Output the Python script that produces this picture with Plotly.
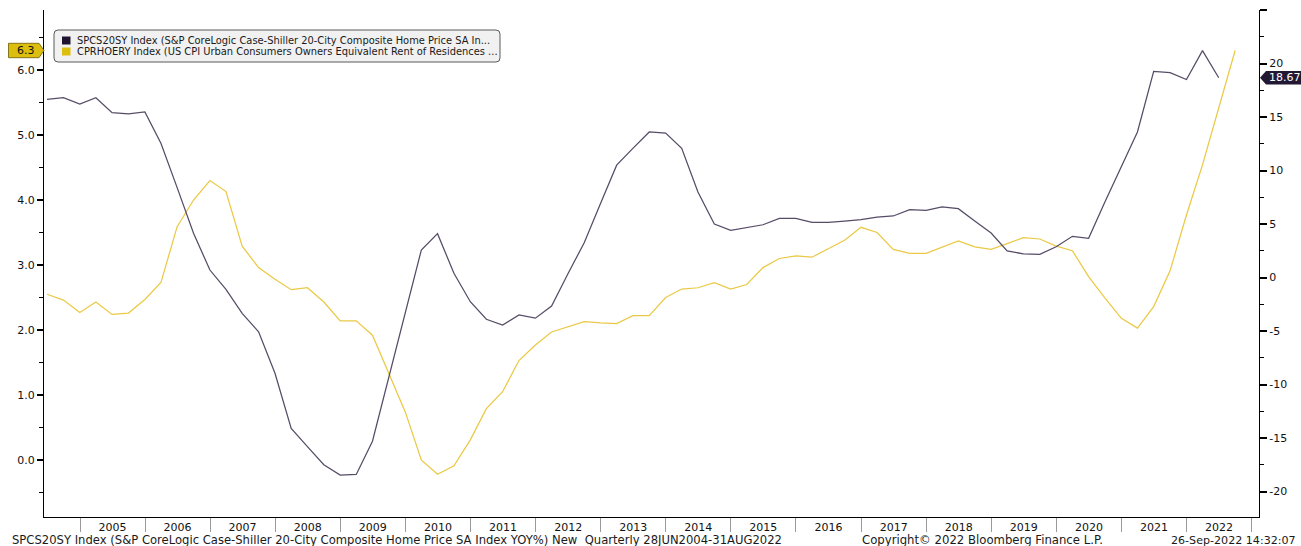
import pandas as pd
import plotly.graph_objects as go

# ---------------- data ----------------
hpi_name = "SPCS20SY Index (S&P CoreLogic Case-Shiller 20-City Composite Home Price SA In..."
oer_name = "CPRHOERY Index (US CPI Urban Consumers Owners Equivalent Rent of Residences ..."

# Case-Shiller 20-city YoY %, quarterly, Jun-2004 .. Jun-2022 (right axis)
hpi_values = [16.65, 16.8, 16.2, 16.8, 15.4, 15.3, 15.47, 12.54, 8.4, 4.13,
              0.7, -1.1, -3.35, -5.07, -8.95, -14.1, -15.8, -17.5, -18.46, -18.4,
              -15.3, -9.3, -3.35, 2.57, 4.1, 0.39, -2.26, -3.9, -4.44, -3.5,
              -3.8, -2.66, 0.33, 3.25, 6.93, 10.5, 12.07, 13.6, 13.5, 12.07,
              8.0, 5.0, 4.4, 4.65, 4.93, 5.53, 5.53, 5.16, 5.16, 5.28,
              5.4, 5.65, 5.75, 6.34, 6.28, 6.59, 6.43, 5.28, 4.16, 2.48,
              2.22, 2.17, 2.88, 3.85, 3.66, 7.08, 10.36, 13.6, 19.27, 19.14,
              18.5, 21.2, 18.67]

# OER YoY %, quarterly, Jun-2004 .. Q3-2022 (left axis)
oer_values = [2.55, 2.46, 2.27, 2.43, 2.24, 2.26, 2.47, 2.73, 3.59, 4.0,
              4.3, 4.13, 3.29, 2.96, 2.78, 2.62, 2.65, 2.43, 2.14, 2.14,
              1.92, 1.33, 0.74, 0.0, -0.22, -0.09, 0.31, 0.79, 1.05, 1.53,
              1.77, 1.97, 2.05, 2.13, 2.11, 2.10, 2.22, 2.22, 2.5, 2.63,
              2.65, 2.73, 2.63, 2.7, 2.96, 3.1, 3.14, 3.12, 3.25, 3.38,
              3.58, 3.5, 3.24, 3.18, 3.18, 3.27, 3.37, 3.28, 3.24, 3.33,
              3.42, 3.4, 3.29, 3.22, 2.82, 2.49, 2.18, 2.03, 2.36, 2.91,
              3.77, 4.54, 5.41, 6.3]

hpi_dates = list(pd.date_range("2004-06-30", periods=len(hpi_values), freq="QE"))
oer_dates = list(pd.date_range("2004-06-30", periods=len(oer_values), freq="QE"))

years = list(range(2005, 2023))
year_labels = [str(y) for y in years]

right_ticks = [-20, -15, -10, -5, 0, 5, 10, 15, 20, 25]
right_tick_text = [str(v) for v in right_ticks[:-1]] + [""]

footer_left = ("SPCS20SY Index (S&P CoreLogic Case-Shiller 20-City Composite Home Price SA Index YOY%) New"
               "&nbsp;&nbsp;Quarterly 28JUN2004-31AUG2022")
footer_mid = "Copyright\u00a9 2022 Bloomberg Finance L.P."
footer_right = "26-Sep-2022 14:32:07"

# ---------------- styling ----------------
DARK = "#564c66"
DARK_TAG = "#221833"
YELLOW = "#eac946"
YELLOW_TAG = "#dcbe0e"
FONT = "DejaVu Sans, Verdana, sans-serif"

W, H = 1301, 546
ML, MR, MT, MB = 44, 42, 10, 29
PW, PH = W - ML - MR, H - MT - MB

yl_range = [-0.877, 6.923]
yr_range = [-22.38, 25.0]

def px_x(px):
    return (px - ML) / PW

def px_y(py):
    return (H - MB - py) / PH

fig = go.Figure()
fig.add_trace(go.Scatter(x=hpi_dates, y=hpi_values, mode="lines", name=hpi_name,
                         line=dict(color=DARK, width=1.25), yaxis="y2", showlegend=False))
fig.add_trace(go.Scatter(x=oer_dates, y=oer_values, mode="lines", name=oer_name,
                         line=dict(color=YELLOW, width=1.25), yaxis="y", showlegend=False))

shapes = []
annotations = []

# legend box (rounded)
x0, x1 = px_x(54), px_x(500)
y0, y1 = px_y(62), px_y(30)
rx, ry = 4 / PW, 4 / PH
path = (f"M {x0+rx},{y1} L {x1-rx},{y1} Q {x1},{y1} {x1},{y1-ry} "
        f"L {x1},{y0+ry} Q {x1},{y0} {x1-rx},{y0} L {x0+rx},{y0} "
        f"Q {x0},{y0} {x0},{y0+ry} L {x0},{y1-ry} Q {x0},{y1} {x0+rx},{y1} Z")
shapes.append(dict(type="path", path=path, xref="paper", yref="paper",
                   fillcolor="#f1f1f1", line=dict(color="#5a5a5a", width=1), layer="above"))
for name, col, cy in [(hpi_name, "#1e1230", 40.5), (oer_name, "#dcbf0c", 51.5)]:
    shapes.append(dict(type="rect", xref="paper", yref="paper",
                       x0=px_x(62), x1=px_x(70.5), y0=px_y(cy + 4), y1=px_y(cy - 4),
                       fillcolor=col, line=dict(width=0), layer="above"))
    annotations.append(dict(text=name, xref="paper", yref="paper", x=px_x(75), y=px_y(cy),
                            xanchor="left", yanchor="middle", showarrow=False,
                            font=dict(family=FONT, size=9.9, color="#1a1a1a")))

# last-value tags
oer_last = oer_values[-1]
hh = 7.2 / PH * (yl_range[1] - yl_range[0])
xa, xb, xt = px_x(8.5), px_x(39), px_x(44)
shapes.append(dict(type="path", xref="paper", yref="y",
                   path=(f"M {xa},{oer_last+hh} L {xb},{oer_last+hh} L {xt},{oer_last} "
                         f"L {xb},{oer_last-hh} L {xa},{oer_last-hh} Z"),
                   fillcolor=YELLOW_TAG, line=dict(color="#6b5c00", width=0.8), layer="above"))
annotations.append(dict(text=f"{oer_last:.1f}", xref="paper", yref="y", x=px_x(37), y=oer_last,
                        xanchor="right", yanchor="middle", showarrow=False,
                        font=dict(family=FONT, size=11, color="#111")))

hpi_last = hpi_values[-1]
hh2 = 6.8 / PH * (yr_range[1] - yr_range[0])
xa, xb, xt = px_x(1301), px_x(1266), px_x(1260)
shapes.append(dict(type="path", xref="paper", yref="y2",
                   path=(f"M {xa},{hpi_last+hh2} L {xb},{hpi_last+hh2} L {xt},{hpi_last} "
                         f"L {xb},{hpi_last-hh2} L {xa},{hpi_last-hh2} Z"),
                   fillcolor=DARK_TAG, line=dict(width=0), layer="above"))
annotations.append(dict(text=f"{hpi_last:.2f}", xref="paper", yref="y2", x=px_x(1267), y=hpi_last,
                        xanchor="left", yanchor="middle", showarrow=False,
                        font=dict(family=FONT, size=11, color="white")))

# footer
fy = px_y(540)
annotations.append(dict(text=footer_left, xref="paper", yref="paper", x=px_x(10), y=fy,
                        xanchor="left", yanchor="middle", showarrow=False,
                        font=dict(family=FONT, size=11.6, color="#1a1a1a")))
annotations.append(dict(text=footer_mid, xref="paper", yref="paper", x=px_x(860), y=fy,
                        xanchor="left", yanchor="middle", showarrow=False,
                        font=dict(family=FONT, size=11.7, color="#1a1a1a")))
annotations.append(dict(text=footer_right, xref="paper", yref="paper", x=px_x(1298), y=fy,
                        xanchor="right", yanchor="middle", showarrow=False,
                        font=dict(family=FONT, size=11.1, color="#1a1a1a")))

fig.update_layout(
    width=W, height=H,
    margin=dict(l=ML, r=MR, t=MT, b=MB, pad=0),
    paper_bgcolor="white", plot_bgcolor="white",
    showlegend=False,
    font=dict(family=FONT, size=11, color="#111"),
    xaxis=dict(type="date", range=["2004-06-13", "2023-02-11"], automargin=False,
               tickmode="array", tickvals=[f"{y}-07-02" for y in years], ticktext=year_labels,
               ticks="", showgrid=False, zeroline=False,
               showline=True, linecolor="black", linewidth=1,
               tickfont=dict(family=FONT, size=11, color="#111"),
               minor=dict(tickmode="array", tickvals=[f"{y}-01-01" for y in years + [2023]],
                          ticks="outside", ticklen=14, tickwidth=1, tickcolor="#9a9a9a")),
    yaxis=dict(range=yl_range, tickmode="linear", tick0=0, dtick=1, tickformat=".1f", automargin=False,
               ticks="outside", ticklen=6, tickwidth=2, tickcolor="black",
               showgrid=False, zeroline=False, showline=True, linecolor="black", linewidth=1,
               tickfont=dict(family=FONT, size=11, color="#111"),
               minor=dict(dtick=0.5, ticks="outside", ticklen=4, tickwidth=1, tickcolor="black")),
    yaxis2=dict(range=yr_range, overlaying="y", side="right",
                tickmode="array", tickvals=right_ticks, ticktext=right_tick_text,
                automargin=False,
                ticks="outside", ticklen=7, tickwidth=2, tickcolor="black",
                showgrid=False, zeroline=False, showline=True, linecolor="black", linewidth=1,
                tickfont=dict(family=FONT, size=11, color="#111"),
                minor=dict(tickmode="linear", tick0=0, dtick=2.5, ticks="outside", ticklen=4,
                           tickwidth=1, tickcolor="black")),
    shapes=shapes,
    annotations=annotations,
)

fig.write_html("out.html", config={"displayModeBar": False},
               post_script="document.body.style.margin='0px';document.body.style.overflow='hidden';")
